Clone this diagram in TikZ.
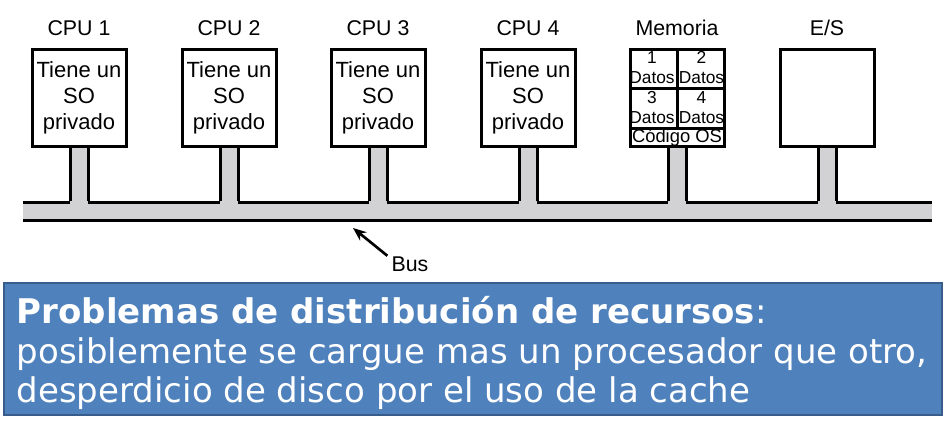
\documentclass[tikz,border=0pt]{standalone}
\usepackage{fontspec}
\setmainfont{Liberation Sans}
\newfontfamily\probfont{DejaVu Sans}
\usetikzlibrary{arrows.meta}

\definecolor{busgray}{RGB}{210,210,212}
\definecolor{probblue}{RGB}{79,129,189}
\definecolor{probedge}{RGB}{56,93,138}

\begin{document}
\begin{tikzpicture}[x=0.75pt,y=0.75pt,yscale=-1,xscale=1,
    unit/.style={draw,line width=2.25,inner sep=0,minimum width=70.5pt,minimum height=72.75pt,align=center,font=\fontsize{16.5}{19.5}\selectfont},
    lbl/.style={inner sep=0,anchor=base,font=\fontsize{16}{19.5}\selectfont},
    cell/.style={inner sep=0,align=center,font=\fontsize{13}{15}\selectfont},
    busline/.style={line width=2.25},
    busarrow/.style={line width=2,-{Stealth[length=10pt,width=8pt]}}]
    \useasboundingbox (0,0) rectangle (947,426);

    % Units
    \node[unit] (cpu1) at (79,98) {Tiene un\\SO\\privado};
    \node[unit] (cpu2) at (229,98) {Tiene un\\SO\\privado};
    \node[unit] (cpu3) at (378,98) {Tiene un\\SO\\privado};
    \node[unit] (cpu4) at (528,98) {Tiene un\\SO\\privado};
    \node[unit] (mem) at (677,98) {};
    \node[unit] (es) at (827,98) {};

    % Labels
    \node[lbl] (lcpu1) at (79,35) {CPU 1};
    \node[lbl] (lcpu2) at (229,35) {CPU 2};
    \node[lbl] (lcpu3) at (378,35) {CPU 3};
    \node[lbl] (lcpu4) at (528,35) {CPU 4};
    \node[lbl] (lmem) at (677,35) {Memoria};
    \node[lbl] (les) at (827,35) {E/S};

    % Memory cells
    \draw[busline] (mem.north) -- (677,128);
    \draw[busline] (mem.west |- 0,88) -- (mem.east |- 0,88);
    \draw[busline] (mem.west |- 0,128) -- (mem.east |- 0,128);
    \node[cell] (d1) at (652,68) {1\\Datos};
    \node[cell] (d2) at (701.5,68) {2\\Datos};
    \node[cell] (d3) at (652,108) {3\\Datos};
    \node[cell] (d4) at (701.5,108) {4\\Datos};
    \node[cell,font=\fontsize{13.8}{15}\selectfont] (os) at (677,138) {C\'odigo OS};

    % Bus
    \coordinate (busL) at (23,202);
    \coordinate (busR) at (932,202);
    \fill[busgray] (busL) rectangle (932,220.5);
    \draw[busline] (busL) -- (busR);
    \draw[busline] (23,220.5) -- (932,220.5);
    \foreach \n in {cpu1,cpu2,cpu3,cpu4,mem,es}{
      \fill[busgray] ([xshift=-6.75pt]\n.south) rectangle ([xshift=6.75pt,yshift=1.3pt]\n.south |- busL);
      \draw[busline] ([xshift=-6.75pt]\n.south) -- ([xshift=-6.75pt,yshift=-0.85pt]\n.south |- busL);
      \draw[busline] ([xshift=6.75pt]\n.south) -- ([xshift=6.75pt,yshift=-0.85pt]\n.south |- busL);
    }

    % Bus label
    \coordinate (bustip) at (353,228);
    \node[inner sep=3pt,font=\fontsize{16}{19.5}\selectfont] (buslbl) at (410,264) {Bus};
    \draw[busarrow] (buslbl.160) -- (bustip);

    % Text box
    \node[fill=probblue,draw=probedge,line width=1.5,minimum width=703.5pt,minimum height=99pt] (prob) at (473,349) {};
    \node[inner sep=0,align=left,text=white,font=\probfont\fontsize{25.5}{29.8}\selectfont] (probtxt) at (472,353)
      {\textbf{Problemas de distribución de recursos}:\\posiblemente se cargue mas un procesador que otro,\\desperdicio de disco por el uso de la cache};
\end{tikzpicture}
\end{document}
